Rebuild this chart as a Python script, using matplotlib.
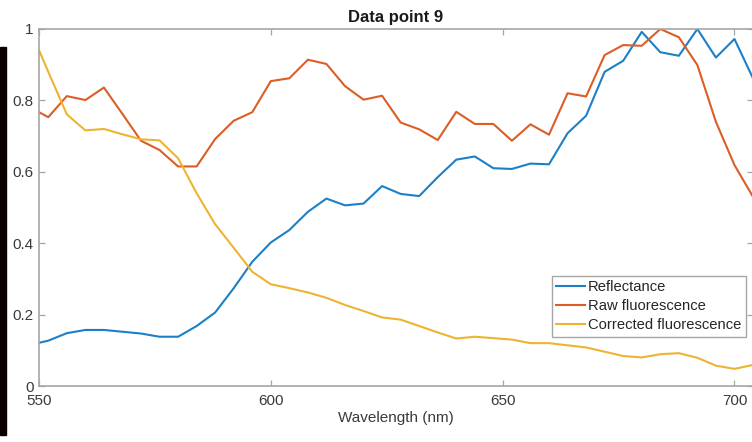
import numpy as np
import matplotlib
matplotlib.use("Agg")
import matplotlib.pyplot as plt
from matplotlib.patches import Rectangle
from matplotlib.ticker import FuncFormatter

# Wavelengths (nm)
wavelength = [550, 552, 556, 560, 564, 568, 572, 576, 580, 584,
              588, 592, 596, 600, 604, 608, 612, 616, 620, 624,
              628, 632, 636, 640, 644, 648, 652, 656, 660, 664,
              668, 672, 676, 680, 684, 688, 692, 696, 700, 704]

reflectance = [0.121, 0.127, 0.148, 0.157, 0.157, 0.152, 0.147, 0.138, 0.138, 0.168,
               0.206, 0.274, 0.348, 0.402, 0.437, 0.488, 0.525, 0.506, 0.511, 0.560,
               0.538, 0.532, 0.585, 0.634, 0.643, 0.610, 0.608, 0.623, 0.621, 0.708,
               0.757, 0.880, 0.911, 0.992, 0.935, 0.925, 1.000, 0.920, 0.972, 0.862]

raw_fluorescence = [0.767, 0.753, 0.812, 0.801, 0.836, 0.762, 0.687, 0.661, 0.615, 0.615,
                    0.692, 0.743, 0.767, 0.854, 0.862, 0.914, 0.902, 0.840, 0.802, 0.813,
                    0.738, 0.719, 0.689, 0.768, 0.734, 0.734, 0.687, 0.733, 0.704, 0.820,
                    0.811, 0.927, 0.955, 0.953, 1.000, 0.977, 0.899, 0.740, 0.619, 0.530]

corrected_fluorescence = [0.941, 0.880, 0.761, 0.716, 0.720, 0.705, 0.691, 0.688, 0.638, 0.540,
                          0.453, 0.387, 0.320, 0.285, 0.274, 0.262, 0.247, 0.227, 0.210, 0.192,
                          0.186, 0.168, 0.150, 0.133, 0.138, 0.134, 0.130, 0.120, 0.120, 0.114,
                          0.108, 0.096, 0.084, 0.080, 0.089, 0.092, 0.079, 0.057, 0.048, 0.059]

series_labels = ["Reflectance", "Raw fluorescence", "Corrected fluorescence"]
series_colors = ["#1b80c8", "#dc5d26", "#eeb431"]
x_ticks = [550, 600, 650, 700]
y_ticks = [0, 0.2, 0.4, 0.6, 0.8, 1]

plt.rcParams['font.family'] = ['Liberation Sans', 'DejaVu Sans']

W, H = 752, 442
fig = plt.figure(figsize=(W / 100, H / 100), dpi=100)
ax = fig.add_axes([39 / W, 56 / H, 714 / W, 357 / H])

for values, label, color in zip([reflectance, raw_fluorescence, corrected_fluorescence],
                                series_labels, series_colors):
    ax.plot(wavelength, values, color=color, lw=1.5, label=label)

ax.set_xlim(550, 704)
ax.set_ylim(0, 1)
ax.set_xticks(x_ticks)
ax.set_yticks(y_ticks)
ax.yaxis.set_major_formatter(FuncFormatter(lambda v, p: "%g" % v))

axis_gray = "#a6a6a6"
for spine in ax.spines.values():
    spine.set_color(axis_gray)
    spine.set_linewidth(1.2)
ax.tick_params(direction="in", length=4.5, width=0.9, color=axis_gray,
               top=True, right=True, labelsize=11, labelcolor="#3a3a3a")
ax.tick_params(axis="x", pad=6)
ax.tick_params(axis="y", pad=4)

ax.set_xlabel("Wavelength (nm)", fontsize=11, color="#3a3a3a", labelpad=2)
ax.set_title("Data point 9", fontsize=12, fontweight="bold", color="#1a1a1a", pad=5)

leg = ax.legend(loc="upper left", bbox_to_anchor=(551.7 / W, 1 - 275.7 / H),
                bbox_transform=fig.transFigure, fontsize=10.6, fancybox=False,
                framealpha=1, edgecolor=axis_gray, handlelength=1.95,
                handletextpad=0.2, labelspacing=0.35, borderpad=0.3,
                borderaxespad=0)
leg.get_frame().set_linewidth(1.0)
for text in leg.get_texts():
    text.set_color("#262626")

# dark strip on the left edge of the screenshot
fig.patches.append(Rectangle((0, 1 - 435 / H), 6 / W, (435 - 47) / H,
                             transform=fig.transFigure, color="#0a0000", zorder=5))

fig.savefig("out.png", dpi=100)
